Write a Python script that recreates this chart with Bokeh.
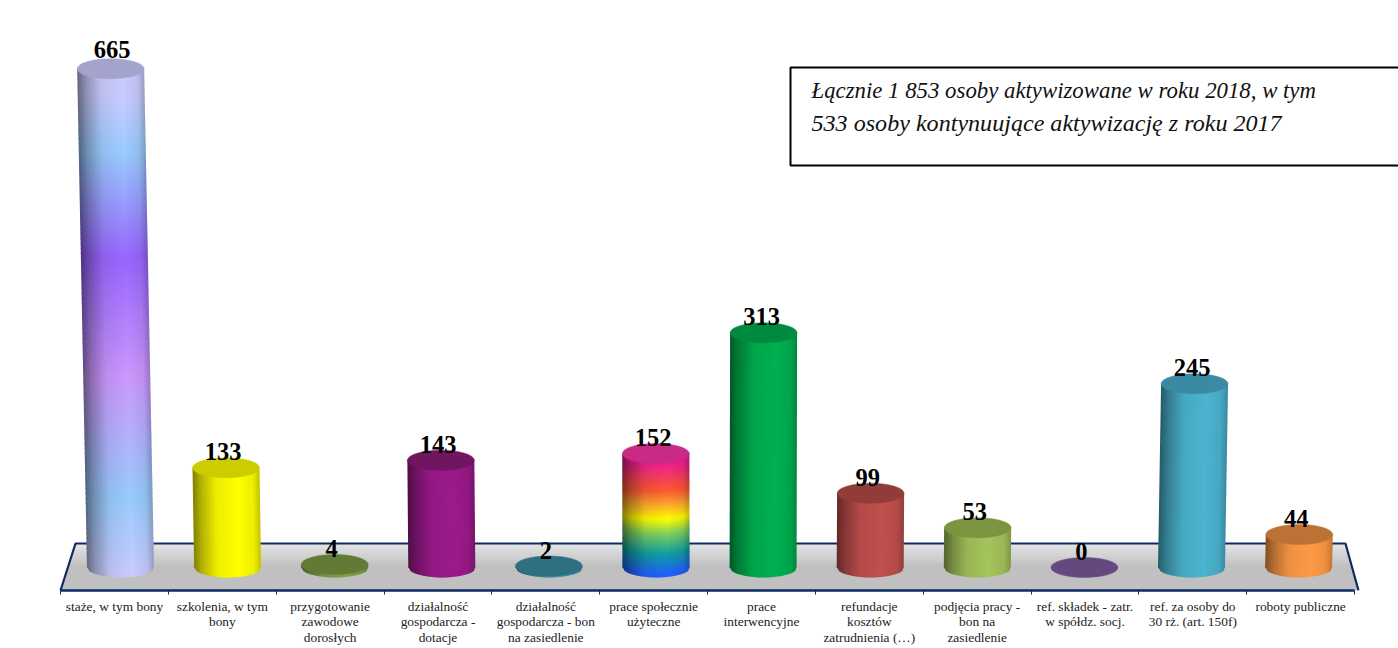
import numpy as np
from bokeh.plotting import figure
from bokeh.models import BoxAnnotation, Label, FixedTicker, Range1d
from bokeh.embed import file_html
from bokeh.resources import INLINE
from bokeh.core.properties import value

categories = ["staże, w tym bony", "szkolenia, w tym\nbony", "przygotowanie\nzawodowe\ndorosłych",
              "działalność\ngospodarcza -\ndotacje", "działalność\ngospodarcza - bon\nna zasiedlenie",
              "prace społecznie\nużyteczne", "prace\ninterwencyjne", "refundacje\nkosztów\nzatrudnienia (…)",
              "podjęcia pracy -\nbon na\nzasiedlenie", "ref. składek - zatr.\nw spółdz. socj.",
              "ref. za osoby do\n30 rż. (art. 150f)", "roboty publiczne"]
values = [665, 133, 4, 143, 2, 152, 313, 99, 53, 0, 245, 44]
body_colors = [None, "#ffff00", "#7f9f45", "#9c1a8c", "#3c8ea5", None, "#00b050", "#c0504d",
               "#a4c45c", "#7d5ea0", "#4bb4d0", "#ff9a46"]
top_colors = ["#a3a3cc", "#cccc00", "#627a35", "#70155f", "#2f6f82", "#c92a85", "#008a40", "#923c39",
              "#7a9440", "#64497f", "#3a8aa3", "#bd7235"]
stops_665 = [(0.0, "#ccccff"), (0.06, "#c8ccff"), (0.167, "#99ccff"), (0.372, "#9966ff"),
             (0.608, "#cc99ff"), (0.846, "#99ccff"), (1.0, "#ccccff")]
stops_152 = [(0.0, "#f02090"), (0.08, "#f02090"), (0.3, "#ff5a30"), (0.4, "#ffa030"), (0.53, "#ffff00"),
             (0.65, "#80d060"), (0.81, "#10a0a0"), (0.98, "#2060ff"), (1.0, "#2060ff")]
text_lines = ["Łącznie 1 853 osoby aktywizowane w roku 2018, w tym",
              "533 osoby kontynuujące aktywizację z roku 2017"]
text_sizes = ["22.8px", "24.1px"]

W, H = 1398, 648
LEFT_PX, TOP_PX, BOTTOM_PX = 0, 0, 590
PX_U = 107.83        # pixels per category
PX_V = 0.75          # pixels per value
def X(px): return (px - 114) / PX_U
def Y(px): return (567 - px) / PX_V

def rgb(h): return np.array([int(h[i:i + 2], 16) for i in (1, 3, 5)], float)
def hexc(c):
    c = np.clip(c, 0, 255).round().astype(int)
    return "#%02x%02x%02x" % tuple(c)
def grad(stops, t):
    ts = [s[0] for s in stops]; cs = np.array([rgb(s[1]) for s in stops])
    return np.array([np.interp(t, ts, cs[:, k]) for k in range(3)])
def shade(t):
    return np.interp(t, [-1, -0.75, -0.3, 0.35, 0.8, 1], [0.50, 0.70, 0.93, 1.0, 0.93, 0.76])

p = figure(width=W, height=H, frame_width=W, frame_height=BOTTOM_PX - TOP_PX, min_border=0,
           output_backend="svg", toolbar_location=None,
           x_range=Range1d(X(LEFT_PX), X(LEFT_PX + W)), y_range=Range1d(Y(BOTTOM_PX), Y(TOP_PX)))
p.outline_line_color = None
p.grid.visible = False
p.yaxis.visible = False
xa = p.xaxis[0]
xa.ticker = FixedTicker(ticks=list(range(len(values))), minor_ticks=[i - 0.5 for i in range(len(values) + 1)])
xa.major_label_overrides = {i: c for i, c in enumerate(categories)}
xa.bounds = (-0.5, 11.5)
xa.axis_line_color = "#0b2a66"; xa.axis_line_width = 2.5
xa.major_tick_line_color = None
xa.minor_tick_line_color = "#0b2a66"; xa.minor_tick_out = 4; xa.minor_tick_in = 0; xa.minor_tick_line_width = 1
xa.major_label_text_font = "Liberation Serif"; xa.major_label_text_font_size = "13.4px"
xa.major_label_text_color = "#222222"; xa.major_label_text_line_height = 1.05
xa.major_label_standoff = 2; xa.major_label_orientation = "horizontal"

# floor
fy0, fy1 = 543.0, 590.0
fl0, fl1, fr0, fr1 = 75.0, 60.0, 1345.0, 1358.0
n = 24
xs, ys, cols = [], [], []
for k in range(n):
    a, b = k / n, (k + 1) / n
    ya, yb = fy0 + a * (fy1 - fy0), fy0 + b * (fy1 - fy0) + 0.6
    xs.append([X(fl0 + a * (fl1 - fl0)), X(fr0 + a * (fr1 - fr0)), X(fr0 + b * (fr1 - fr0)), X(fl0 + b * (fl1 - fl0))])
    ys.append([Y(ya), Y(ya), Y(yb), Y(yb)])
    cols.append(hexc(grad([(0, "#e4e4e4"), (0.45, "#c0c0c0"), (1, "#c0c0c0")], a)))
p.patches(xs, ys, fill_color=cols, line_color=None)
p.line([X(fl1), X(fl0), X(fr0), X(fr1)], [Y(fy1), Y(fy0), Y(fy0), Y(fy1)], line_color="#0b2a66", line_width=2.2)

# cylinders
R = 33.5 / PX_U
B = 10 / PX_V
centre_px = 700
ov_x = 0.8 / PX_U   # overlap between neighbouring strips, hides seams
ov_y = 0.8 / PX_V
lab_x, lab_y, lab_t = [], [], []
for i, v in enumerate(values):
    base_px = 120 + 107.1 * i
    lean_px = 3.4e-5 * (base_px - centre_px) * v * PX_V
    cx = X(base_px)
    tx = X(base_px + lean_px)
    top = v
    stops = stops_665 if i == 0 else stops_152 if i == 5 else None
    cols_n = 34
    rows = (100 if i == 0 else 60) if stops else 1
    bx, by, bc = [], [], []
    if v > 0:
        for c in range(cols_n):
            t0 = -1 + 2 * c / cols_n
            t1 = -1 + 2 * (c + 1) / cols_n
            tm = (t0 + t1) / 2
            s = shade(tm)
            e0 = B * np.sqrt(max(0, 1 - t0 * t0))
            e1 = B * np.sqrt(max(0, 1 - t1 * t1))
            for r in range(rows):
                f0, f1 = r / rows, (r + 1) / rows
                y00 = top + (0 - e0 - top) * f0
                y01 = top + (0 - e0 - top) * f1 - (ov_y if r < rows - 1 else 0)
                y10 = top + (0 - e1 - top) * f0
                y11 = top + (0 - e1 - top) * f1 - (ov_y if r < rows - 1 else 0)
                xr = t1 * R + (ov_x if c < cols_n - 1 else 0)
                x0a = tx + (cx - tx) * f0 + R * t0
                x0b = tx + (cx - tx) * f1 + R * t0
                x1a = tx + (cx - tx) * f0 + xr
                x1b = tx + (cx - tx) * f1 + xr
                bx.append([x0a, x1a, x1b, x0b])
                by.append([y00, y10, y11, y01])
                base = grad(stops, (f0 + f1) / 2) if stops else rgb(body_colors[i])
                bc.append(hexc(base * s))
        p.patches(bx, by, fill_color=bc, line_color=None)
    p.ellipse([tx], [top], width=2 * R, height=2 * B, fill_color=top_colors[i], line_color=top_colors[i], line_width=0.5)
    k = (v / max(values)) ** 2
    lab_x.append(tx + (-3 + 4.5 * k) / PX_U)
    lab_y.append(top + (16 + 3 * k) / PX_V)
    lab_t.append(str(v))

p.text(lab_x, lab_y, text=lab_t, text_font=value("Liberation Serif"), text_font_style="bold",
       text_font_size="24.5px", text_color="black", text_align="center", text_baseline="middle")

# text box
p.add_layout(BoxAnnotation(left=X(790), right=X(1500), top=Y(67), bottom=Y(165), fill_color="white", fill_alpha=1,
                           line_color="black", line_alpha=1, line_width=2))
for txt, py, fs in zip(text_lines, [90, 122], text_sizes):
    p.add_layout(Label(x=X(811), y=Y(py), text=txt, text_font="Liberation Serif", text_font_style="italic",
                       text_font_size=fs, text_color="#111111", text_baseline="middle", text_align="left"))

open("out.html", "w").write(file_html(p, INLINE))
